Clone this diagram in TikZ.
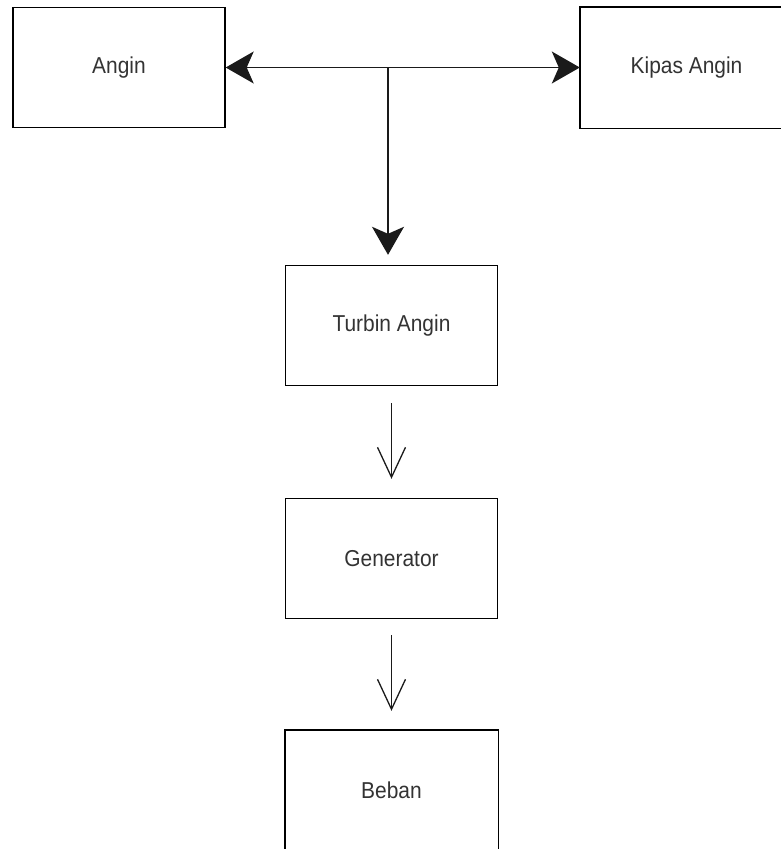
\documentclass[tikz,border=0pt]{standalone}
\usepackage{fontspec}
\setmainfont[FakeStretch=0.91]{Liberation Sans}
\usetikzlibrary{arrows.meta}
\definecolor{txt}{HTML}{333333}
\definecolor{ln}{HTML}{1A1A1A}
\tikzset{
  blk/.style={draw=black, line width=1.4pt, minimum width=212pt, minimum height=120pt,
    inner sep=0pt, text=txt, font=\fontsize{23}{26}\selectfont},
  fatarrow/.style={draw=ln, line width=1.4pt, -{Stealth[length=28pt,width=32pt,inset=7pt]}},
  fatboth/.style={draw=ln, line width=1.4pt, {Stealth[length=28pt,width=32pt,inset=7pt]}-{Stealth[length=28pt,width=32pt,inset=7pt]}},
  openarrow/.style={draw=ln, line width=1.3pt, -{Straight Barb[length=30pt,width=28pt]}}
}
\begin{document}
\begin{tikzpicture}[x=1pt,y=-1pt]
\useasboundingbox (0,0) rectangle (780,849);
\node[blk] (angin) at (119,67.5) {Angin};
\node[blk, draw=none] (kipas) at (686.5,67.5) {Kipas Angin};
\draw[black, line width=1.4pt] ([xshift=120pt]kipas.north east) -- (kipas.north west) -- (kipas.south west) -- ([xshift=120pt]kipas.south east);
\node[blk] (turbin) at (391.5,325.5) {Turbin Angin};
\node[blk] (gen) at (391.5,558.5) {Generator};
\node[blk, draw=none] (beban) at (391.5,790.5) {Beban};
\draw[black, line width=1.4pt] ([yshift=-40pt]beban.south west) -- (beban.north west) -- (beban.north east) -- ([yshift=-40pt]beban.south east);
\coordinate (j) at (388,67.5);
\draw[fatboth] (angin.east) -- (kipas.west);
\draw[fatarrow, shorten >=10pt] (j) -- (turbin.north -| j);
\draw[openarrow, shorten <=17pt, shorten >=19pt] (turbin.south) -- (gen.north);
\draw[openarrow, shorten <=16pt, shorten >=19pt] (gen.south) -- (beban.north);
\end{tikzpicture}
\end{document}
